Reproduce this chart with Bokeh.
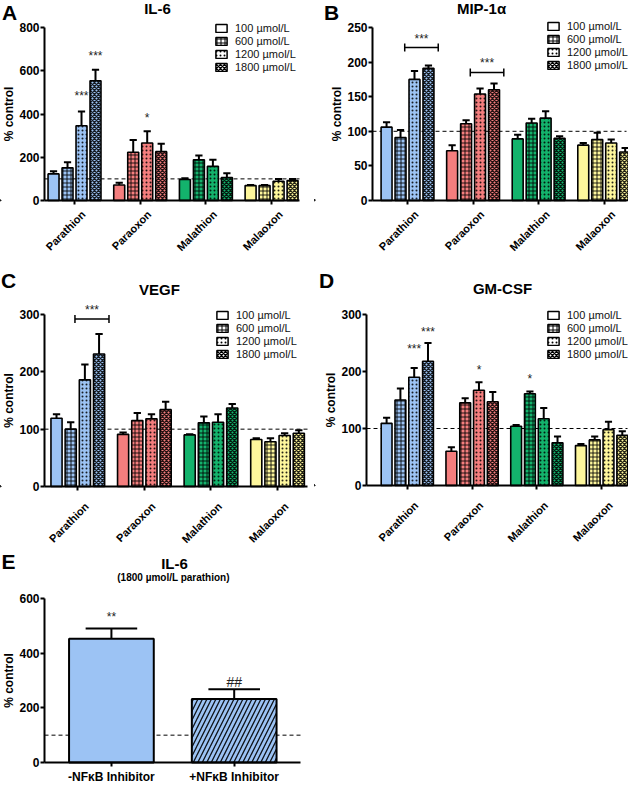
import math
from bokeh.plotting import figure
from bokeh.layouts import column, row
from bokeh.models import (ColumnDataSource, FixedTicker, Label, Legend, LegendItem, Range1d,
                          LinearAxis)
from bokeh.embed import file_html
from bokeh.resources import INLINE

FONT = "Liberation Sans"

# ---------------- data ----------------
COMPOUNDS = ["Parathion", "Paraoxon", "Malathion", "Malaoxon"]
DOSES = ["100 µmol/L", "600 µmol/L", "1200 µmol/L", "1800 µmol/L"]
COMPOUND_COLORS = ["#9cc3f4", "#f47e7e", "#13b36c", "#fdf69c"]
DOSE_HATCHES = ["blank", "cross", "dot", "diagonal_cross"]
CONTROL_LEVEL = 100

# rows = compounds, columns = doses (100, 600, 1200, 1800 µmol/L)
IL6_MEAN = [[123, 151, 346, 554], [72, 223, 266, 226], [97, 188, 158, 106], [69, 69, 89, 92]]
IL6_SEM = [[12, 26, 65, 51], [10, 57, 54, 36], [6, 20, 31, 20], [3, 3, 11, 8]]
IL6_STARS = [(0, 2, 485, "***"), (0, 3, 666, "***"), (1, 2, 380, "*")]

MIP_MEAN = [[106, 91, 175, 191], [72, 111, 154, 160], [89, 112, 119, 90], [80, 88, 83, 70]]
MIP_SEM = [[7, 11, 12, 4], [8, 5, 8, 9], [6, 6, 10, 3], [3, 10, 5, 6]]
MIP_BRACKETS = [(0, 2, 3, 221, "***"), (1, 2, 3, 185, "***")]

VEGF_MEAN = [[119, 100, 186, 231], [91, 115, 118, 134], [90, 111, 112, 137], [82, 78, 89, 93]]
VEGF_SEM = [[7, 12, 27, 35], [3, 13, 8, 14], [1, 11, 14, 7], [2, 6, 4, 5]]
VEGF_BRACKETS = [(0, 2, 3, 292, "***")]

GMCSF_MEAN = [[109, 150, 190, 218], [60, 145, 167, 147], [104, 161, 117, 75], [70, 80, 98, 88]]
GMCSF_SEM = [[10, 20, 16, 32], [7, 8, 14, 17], [2, 4, 19, 11], [3, 6, 14, 7]]
GMCSF_STARS = [(0, 2, 240, "***"), (0, 3, 269, "***"), (1, 2, 203, "*"), (2, 1, 187, "*")]

E_LABELS = ["-NFκB Inhibitor", "+NFκB Inhibitor"]
E_MEAN = [453, 232]
E_SEM = [37, 36]
E_HATCH = ["blank", "right_diagonal_line"]
E_STARS = [(0, 534, "**"), (1, 295, "##")]

# ---------------- style ----------------
STEP = 0.213
BAR_W = 0.167
CAP = 0.055
HATCH_WEIGHTS = {"blank": 1, "cross": 1, "dot": 1, "diagonal_cross": 1.4}
LABEL_SHIFT_PX = 9


def make_fig(fig_left, fig_top, w, h, ax_l, ax_r, xa, xb, y0_px, ytop_px, ymax, y_step):
    """Figure whose frame is the whole canvas; axes are pinned at the data origin."""
    upx = (ax_r - ax_l) / (xb - xa)
    x_start = xa - (ax_l - fig_left) / upx
    x_end = xb + (fig_left + w - ax_r) / upx
    ppu = (y0_px - ytop_px) / ymax
    y_start = -(fig_top + h - y0_px) / ppu
    y_end = ymax + (ytop_px - fig_top) / ppu
    p = figure(width=w, height=h, x_range=Range1d(x_start, x_end),
               y_range=Range1d(y_start, y_end), output_backend="svg", toolbar_location=None,
               min_border_left=0, min_border_right=0, min_border_top=0, min_border_bottom=0)
    p.title.visible = False
    p.grid.visible = False
    p.outline_line_color = None
    p.background_fill_color = "white"
    p.border_fill_color = "white"
    for ax in (p.xaxis, p.yaxis):
        ax.axis_line_width = 2
        ax.axis_line_color = "black"
        ax.major_tick_line_width = 2
        ax.major_tick_line_color = "black"
        ax.major_tick_out = 4
        ax.major_tick_in = 0
        ax.minor_tick_line_color = None
        ax.major_label_text_font = FONT
        ax.major_label_text_font_style = "bold"
        ax.major_label_text_font_size = "12px"
        ax.major_label_text_color = "black"
        ax.major_label_standoff = 3
    p.yaxis.major_label_standoff = 1
    p.yaxis.fixed_location = xa
    p.yaxis.bounds = (0, ymax)
    p.xaxis.fixed_location = 0
    p.xaxis.bounds = (xa, xb)
    p.yaxis.ticker = FixedTicker(ticks=list(range(0, ymax + 1, y_step)), minor_ticks=[])
    p.yaxis.axis_label = "% control"
    p.yaxis.axis_label_text_font = FONT
    p.yaxis.axis_label_text_font_style = "bold"
    p.yaxis.axis_label_text_font_size = "12px"
    p.yaxis.axis_label_text_color = "black"
    p.yaxis.axis_label_standoff = 0
    p.segment(x0=[xa], y0=[CONTROL_LEVEL], x1=[xb], y1=[CONTROL_LEVEL], line_color="black",
              line_width=1, line_dash="4 3")
    geo = dict(left=fig_left, top=fig_top, h=h, upx=upx)
    return p, geo


def page_label(p, geo, px, py, text, size, bold=True):
    p.add_layout(Label(x=px - geo["left"], y=geo["top"] + geo["h"] - py,
                       x_units="screen", y_units="screen", text=text,
                       text_align="center", text_baseline="middle", text_font=FONT,
                       text_font_style="bold" if bold else "normal",
                       text_font_size=size, text_color="black"))


def bar_x(ci, di):
    return ci + 0.5 + (di - 1.5) * STEP


def dose_panel(means, sems, ymax, y_step, geom, title, tpos, letter, lpos, legend_box,
               stars=(), brackets=(), label_standoff=12):
    p, geo = make_fig(*geom, ymax, y_step)
    centers = [0.5 + i for i in range(len(COMPOUNDS))]
    main_x = p.xaxis[0]
    main_x.ticker = FixedTicker(ticks=centers, minor_ticks=[])
    main_x.major_label_overrides = {c: "" for c in centers}

    # category names: a label-only axis, nudged right as in the original layout
    shift = round(LABEL_SHIFT_PX / geo["upx"], 4)
    lab_ticks = [round(c + shift, 4) for c in centers]
    lab_ax = LinearAxis(fixed_location=0, ticker=FixedTicker(ticks=lab_ticks, minor_ticks=[]),
                        major_label_overrides={t: n for t, n in zip(lab_ticks, COMPOUNDS)},
                        major_label_orientation=math.pi / 4, axis_line_color=None,
                        major_tick_line_color=None, minor_tick_line_color=None,
                        major_tick_out=0, major_tick_in=0, major_label_standoff=label_standoff,
                        major_label_text_font=FONT, major_label_text_font_style="bold",
                        major_label_text_font_size="11px", major_label_text_color="black")
    p.add_layout(lab_ax, "below")

    xs, tops, errs, cols, hats, hw = [], [], [], [], [], []
    for ci in range(len(COMPOUNDS)):
        for di in range(len(DOSES)):
            xs.append(bar_x(ci, di))
            tops.append(means[ci][di])
            errs.append(means[ci][di] + sems[ci][di])
            cols.append(COMPOUND_COLORS[ci])
            hats.append(DOSE_HATCHES[di])
            hw.append(HATCH_WEIGHTS[DOSE_HATCHES[di]])
    src = ColumnDataSource(dict(x=xs, top=tops, err=errs, color=cols, hatch=hats, hw=hw,
                                x0=[x - CAP for x in xs], x1=[x + CAP for x in xs]))
    p.segment(x0="x", y0="top", x1="x", y1="err", source=src, line_color="black", line_width=2)
    p.segment(x0="x0", y0="err", x1="x1", y1="err", source=src, line_color="black", line_width=2)
    p.vbar(x="x", top="top", bottom=0, width=BAR_W, source=src, fill_color="color",
           line_color="black", line_width=1.6, hatch_pattern="hatch", hatch_color="black",
           hatch_alpha=0.85, hatch_scale=4, hatch_weight="hw")

    for ci, di, yv, txt in stars:
        p.add_layout(Label(x=bar_x(ci, di), y=yv, text=txt, text_align="center",
                           text_baseline="middle", text_font=FONT, text_font_size="12px",
                           text_color="#222222"))
    for ci, da, db, yv, txt in brackets:
        xa = bar_x(ci, da) - 0.7 * STEP
        xb = bar_x(ci, db) + 0.7 * STEP
        p.segment(x0=[xa], y0=[yv], x1=[xb], y1=[yv], line_color="black", line_width=1.5)
        p.scatter(x=[xa, xb], y=[yv, yv], marker="dash", angle=math.pi / 2, size=8,
                  line_color="black", line_width=1.5)
        p.add_layout(Label(x=(xa + xb) / 2, y=yv, y_offset=2, text=txt, text_align="center",
                           text_baseline="bottom", text_font=FONT, text_font_size="12px",
                           text_color="#222222"))

    items = []
    for di, d in enumerate(DOSES):
        r = p.vbar(x=[-50], top=[1], width=0.1, fill_color="white", line_color="black",
                   line_width=1.5, hatch_pattern=DOSE_HATCHES[di], hatch_color="black",
                   hatch_scale=4, hatch_weight=HATCH_WEIGHTS[DOSE_HATCHES[di]])
        items.append(LegendItem(label=d, renderers=[r]))
    box_left, box_bottom = legend_box
    leg = Legend(items=items, location=(box_left - geo["left"], geo["top"] + geo["h"] - box_bottom),
                 border_line_color=None, background_fill_alpha=0, padding=0, margin=0,
                 spacing=1, glyph_height=10, glyph_width=14, label_height=10,
                 label_standoff=7, label_text_font=FONT, label_text_font_size="11px",
                 label_text_color="#111111")
    p.add_layout(leg)

    page_label(p, geo, tpos[0], tpos[1], title, "15px")
    page_label(p, geo, lpos[0], lpos[1], letter, "21px")
    return p


# geometry: fig_left, fig_top, width, height, y-axis x, x-axis end, x at y-axis, x at end,
#           y of 0, y of max   (page pixels)
pA = dose_panel(IL6_MEAN, IL6_SEM, 800, 200, (8, 8, 314, 258, 52, 307, 0.043, 3.925, 208, 35),
                "IL-6", (165, 16), "A", (17, 20), (222, 81), stars=IL6_STARS, label_standoff=12)
pB = dose_panel(MIP_MEAN, MIP_SEM, 250, 50, (322, 8, 314, 258, 380, 634, -0.034, 3.84, 208, 35),
                "MIP-1α", (489, 16), "B", (339, 20), (554, 79), brackets=MIP_BRACKETS,
                label_standoff=12)
pC = dose_panel(VEGF_MEAN, VEGF_SEM, 300, 100, (8, 266, 314, 290, 52, 315, 0.0, 3.95, 494, 322),
                "VEGF", (167, 297), "C", (16, 288), (223, 368), brackets=VEGF_BRACKETS,
                label_standoff=18)
pD = dose_panel(GMCSF_MEAN, GMCSF_SEM, 300, 100, (322, 266, 314, 290, 374, 635, -0.13, 3.9, 493, 322),
                "GM-CSF", (510, 296), "D", (334, 288), (554, 368), stars=GMCSF_STARS,
                label_standoff=18)

# ---------------- panel E ----------------
pE, geoE = make_fig(8, 556, 320, 234, 52, 308, -0.045, 2.04, 770, 606, 600, 200)
pE.xaxis.ticker = FixedTicker(ticks=[0.5, 1.5], minor_ticks=[])
pE.xaxis.major_label_overrides = {0.5 + i: t for i, t in enumerate(E_LABELS)}
ex = [0.5 + i for i in range(len(E_MEAN))]
esrc = ColumnDataSource(dict(x=ex, top=E_MEAN, err=[m + s for m, s in zip(E_MEAN, E_SEM)],
                             hatch=E_HATCH, x0=[x - 0.21 for x in ex], x1=[x + 0.21 for x in ex]))
pE.segment(x0="x", y0="top", x1="x", y1="err", source=esrc, line_color="black", line_width=2)
pE.segment(x0="x0", y0="err", x1="x1", y1="err", source=esrc, line_color="black", line_width=2)
pE.vbar(x="x", top="top", bottom=0, width=0.69, source=esrc, fill_color=COMPOUND_COLORS[0],
        line_color="black", line_width=2, hatch_pattern="hatch", hatch_color="black",
        hatch_scale=9, hatch_weight=1.3, hatch_alpha=0.9)
for i, yv, txt in E_STARS:
    pE.add_layout(Label(x=ex[i], y=yv, text=txt, text_align="center", text_baseline="middle",
                        text_font=FONT, text_font_size="14px" if txt == "##" else "12px",
                        text_color="#222222"))
page_label(pE, geoE, 182, 571, "IL-6", "15px")
page_label(pE, geoE, 181, 585, "(1800 µmol/L parathion)", "10px")
page_label(pE, geoE, 16, 569, "E", "21px")

layout = column(row(pA, pB), row(pC, pD), pE)
open("out.html", "w").write(file_html(layout, INLINE))
